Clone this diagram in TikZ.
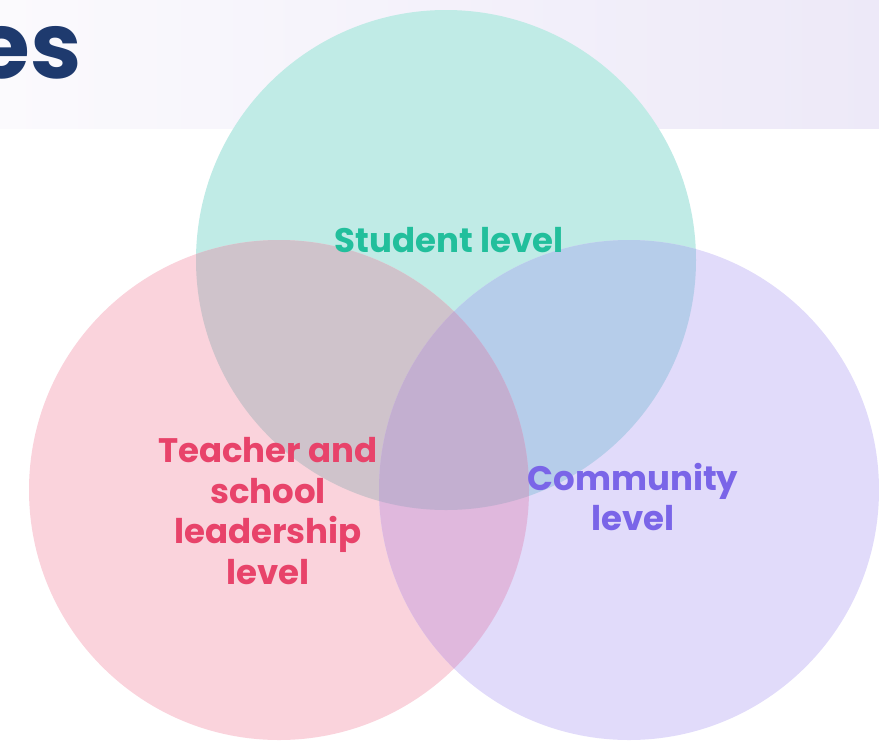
\documentclass[tikz,border=0pt]{standalone}
\usepackage{fontspec}
\setmainfont{Poppins}
\usetikzlibrary{positioning}
\definecolor{bandleft}{HTML}{FBFAFD}
\definecolor{bandright}{HTML}{EDE9F8}
\definecolor{navytext}{HTML}{1E3A6E}
\definecolor{studentfill}{HTML}{C0EBE6}
\definecolor{teacherfill}{HTML}{FAD3DC}
\definecolor{communityfill}{HTML}{E1DBFA}
\definecolor{stfill}{HTML}{CFC3CB}
\definecolor{scfill}{HTML}{B6CDEA}
\definecolor{tcfill}{HTML}{E0B8DD}
\definecolor{allfill}{HTML}{C3AFD0}
\definecolor{studenttext}{HTML}{22BF9C}
\definecolor{teachertext}{HTML}{E8436A}
\definecolor{communitytext}{HTML}{7A65E8}

\begin{document}
\begin{tikzpicture}[x=1pt,y=-1pt,
                lbl/.style={font=\bfseries\fontsize{34}{40.5}\selectfont, align=center, inner sep=0pt},]
            \useasboundingbox (0,0) rectangle (879,740);
            \clip (0,0) rectangle (879,740);
            \shade[left color=bandleft, right color=bandright] (0,0) rectangle (879,128);
            \node[anchor=base east, text=navytext, inner sep=0pt,
                  font=\bfseries\fontsize{92}{92}\selectfont] (title) at (82,78) {es};
            % centres of the three circles
            \coordinate (s) at (446,260);
            \coordinate (t) at (279,490);
            \coordinate (c) at (629,490);
            \def\rad{250pt}
            \fill[studentfill] (s) circle (\rad);
            \fill[teacherfill] (t) circle (\rad);
            \fill[communityfill] (c) circle (\rad);
            % overlaps
            \begin{scope}
                \clip (s) circle (\rad);
                \fill[stfill] (t) circle (\rad);
                \fill[scfill] (c) circle (\rad);
            \end{scope}
            \begin{scope}
                \clip (t) circle (\rad);
                \fill[tcfill] (c) circle (\rad);
            \end{scope}
            \begin{scope}
                \clip (s) circle (\rad);
                \clip (t) circle (\rad);
                \fill[allfill] (c) circle (\rad);
            \end{scope}
            \node[lbl, text=studenttext] (student) at (449,240) {Student level};
            \node[lbl, text=teachertext] (teacher) at (268,511) {Teacher and\\school\\leadership\\level};
            \node[lbl, text=communitytext] (community) at (633,497) {Community\\level};
        \end{tikzpicture}
\end{document}
